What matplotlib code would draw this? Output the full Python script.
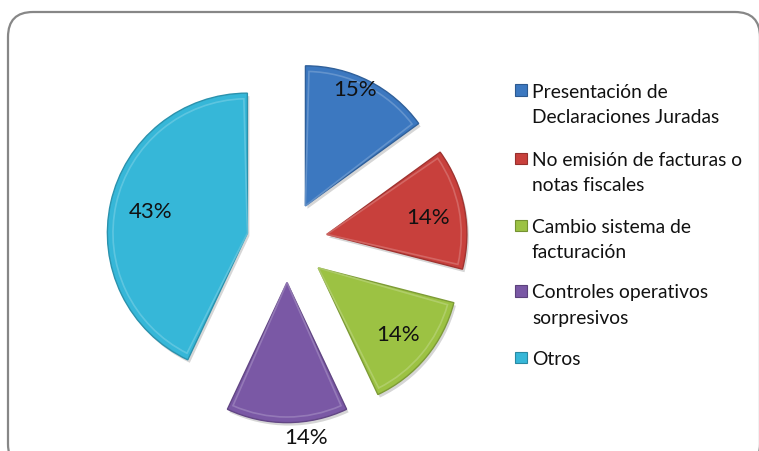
import matplotlib
matplotlib.use('Agg')
import matplotlib.pyplot as plt
from matplotlib.patches import FancyBboxPatch, Rectangle, Wedge
import matplotlib.colors as mcolors
import numpy as np

categories = ["Presentación de\nDeclaraciones Juradas",
              "No emisión de facturas o\nnotas fiscales",
              "Cambio sistema de\nfacturación",
              "Controles operativos\nsorpresivos",
              "Otros"]
values = [15, 14, 14, 14, 43]
pct_labels = ["15%", "14%", "14%", "14%", "43%"]
colors = ["#3C78C0", "#C8403C", "#9CC243", "#7A58A5", "#36B7D8"]

plt.rcParams['font.family'] = ['Lato', 'DejaVu Sans']

W, H = 759, 452
fig = plt.figure(figsize=(W / 100, H / 100), dpi=100)
bg = fig.add_axes([0, 0, 1, 1])
bg.set_xlim(0, W)
bg.set_ylim(H, 0)
bg.axis('off')
frame = FancyBboxPatch((8, 13), 760 - 8, 470 - 13,
                       boxstyle="round,pad=0,rounding_size=25",
                       fc='white', ec='#878787', lw=1.6)
bg.add_patch(frame)

def darker(c, f=0.7):
    r, g, b = mcolors.to_rgb(c)
    return (r * f, g * f, b * f)

def lighter(c, f=0.35):
    r, g, b = mcolors.to_rgb(c)
    return (r + (1 - r) * f, g + (1 - g) * f, b + (1 - b) * f)

# legend
leg_x, txt_x = 515, 532
item_base = [97.5, 166, 233, 298.5, 365]
line_h = 25.5
for i, (lab, col) in enumerate(zip(categories, colors)):
    yb = item_base[i]
    bg.add_patch(Rectangle((leg_x, yb - 12.5), 12, 11.5, fc=col, ec=darker(col, 0.75), lw=0.8))
    for j, line in enumerate(lab.split("\n")):
        bg.text(txt_x, yb + j * line_h, line, fontsize=13.9, va='baseline', ha='left', color='#111111')

# pie
R = 140.0
cx, cy = 287, 243
ax = fig.add_axes([0, 0, 1, 1])
ax.patch.set_alpha(0)
ax.axis('off')
explode = [0.29] * len(values)
wedges, _ = ax.pie(values, colors=colors, startangle=90, counterclock=False,
                   explode=explode, radius=1.0)
ax.set_xlim(-cx / R, (W - cx) / R)
ax.set_ylim(-(H - cy) / R, cy / R)
ax.set_aspect('equal', adjustable='box')

for w, col in zip(wedges, colors):
    w.set_edgecolor(darker(col, 0.8))
    w.set_linewidth(1.0)
    w.set_zorder(2)
    # shadow
    sh = Wedge(w.center, w.r, w.theta1, w.theta2, fc=(0, 0, 0, 0.16), ec='none', zorder=1)
    sh.set_transform(ax.transData + matplotlib.transforms.Affine2D().translate(2, -3))
    ax.add_patch(sh)
    # bevel: inner highlight
    inner = Wedge(w.center, w.r * 0.96, w.theta1 + 1.5, w.theta2 - 1.5,
                  fc='none', ec=lighter(col, 0.25), lw=1.2, zorder=3, alpha=0.8)
    ax.add_patch(inner)

# percentage labels
lab_r = [0.91, 0.73, 0.74, 1.11, 0.71]
lab_dt = [4, -1, 0, 7, 0]
for w, txt, r, dt in zip(wedges, pct_labels, lab_r, lab_dt):
    mid = np.deg2rad((w.theta1 + w.theta2) / 2 + dt)
    x = w.center[0] + r * np.cos(mid)
    y = w.center[1] + r * np.sin(mid)
    ax.text(x, y, txt, ha='center', va='center', fontsize=16, color='#111111', zorder=5)

fig.savefig('out.png', dpi=100)
